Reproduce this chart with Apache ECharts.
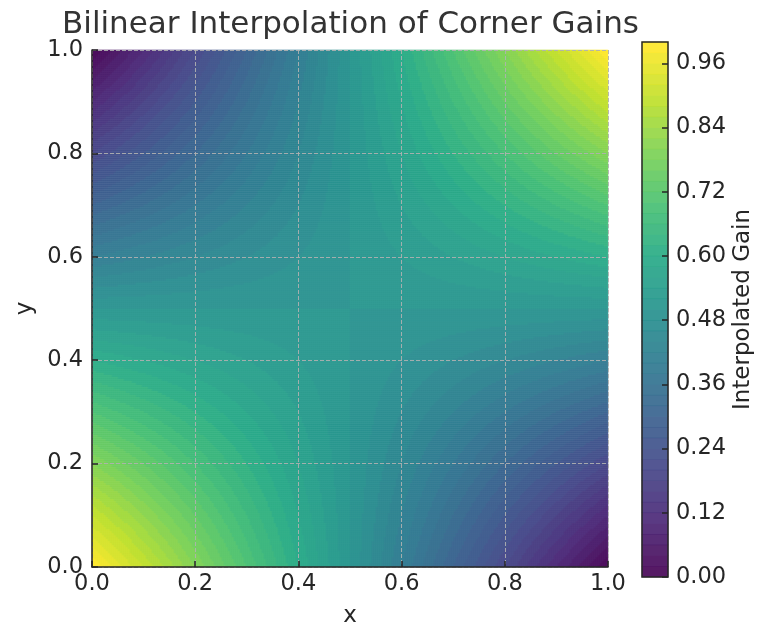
<!DOCTYPE html>
<html lang="en">
<head>
    <meta charset="UTF-8">
    <title>Bilinear Interpolation of Corner Gains</title>
    <script src="https://cdn.jsdelivr.net/npm/echarts@6/dist/echarts.min.js"></script>
</head>
<style>
    * {
        margin: 0px;
        padding: 0px;
    }
    html, body {
        width: 100%;
        height: 100%;
        overflow: hidden;
        background: #fff;
    }
    .container {
        width: 774px;
        height: 640px;
    }
</style>
<body>
    <div class="container"></div>
</body>
<script>
    // corner gains as [x, y, gain]
    let cornerGains = [[0, 0, 1.0], [1, 0, 0.0], [0, 1, 0.0], [1, 1, 1.0]];
    let axisTicks = [0.0, 0.2, 0.4, 0.6, 0.8, 1.0];
    let colorbarTicks = [0.00, 0.12, 0.24, 0.36, 0.48, 0.60, 0.72, 0.84, 0.96];
    let levelStep = 0.02;     // contour band width
    let levelCount = 50;      // bands between 0 and 1
    let gridSize = 258;       // cells per side of the sampled surface
    let viridis = ['#440154', '#482475', '#414487', '#355f8d', '#2a788e', '#21918c',
        '#22a884', '#44bf70', '#7ad151', '#bddf26', '#fde725'];

    function gainAt(c) {
        return cornerGains.find(g => g[0] == c[0] && g[1] == c[1])[2];
    }
    let g00 = gainAt([0, 0]), g10 = gainAt([1, 0]), g01 = gainAt([0, 1]), g11 = gainAt([1, 1]);

    function band(v) {
        let k = Math.min(levelCount - 1, Math.max(0, Math.floor(v / levelStep + 1e-9)));
        return (k + 0.5) * levelStep;
    }

    let cells = [];
    let cellCats = [];
    for (let i = 0; i < gridSize; i++) {
        cellCats.push(i);
        let x = (i + 0.5) / gridSize;
        for (let j = 0; j < gridSize; j++) {
            let y = (j + 0.5) / gridSize;
            let g = g00 * (1 - x) * (1 - y) + g10 * x * (1 - y) + g01 * (1 - x) * y + g11 * x * y;
            cells.push([i, j, band(g)]);
        }
    }

    let barCats = [];
    let barCells = [];
    for (let k = 0; k < levelCount; k++) {
        barCats.push(k);
        barCells.push([0, k, (k + 0.5) * levelStep]);
    }

    let font = 'DejaVu Sans';
    let ink = '#262626';
    let tickSize = 22.5;
    let gridLine = {
        show: true,
        lineStyle: {color: 'rgba(176,176,176,0.9)', width: 1, type: [4, 2]}
    };

    let container = document.querySelector('.container');
    let mycharts = echarts.init(container);

    let option = {
        animation: false,
        backgroundColor: '#fff',
        textStyle: {fontFamily: font},
        title: {
            text: 'Bilinear Interpolation of Corner Gains',
            left: 62,
            top: 9,
            padding: 0,
            textStyle: {fontFamily: font, fontSize: 31, fontWeight: 'normal', color: '#333'}
        },
        grid: [
            {left: 92, top: 50, width: 516, height: 517, containLabel: false},
            {left: 642, top: 42, width: 26, height: 535, show: true, borderColor: ink, borderWidth: 1.5, z: 10}
        ],
        visualMap: {
            type: 'continuous',
            show: false,
            seriesIndex: [0, 1],
            dimension: 2,
            min: levelStep / 2,
            max: 1 - levelStep / 2,
            inRange: {color: viridis}
        },
        xAxis: [
            {
                type: 'value', gridIndex: 0, z: 10,
                min: axisTicks[0], max: axisTicks[axisTicks.length - 1],
                interval: axisTicks[1] - axisTicks[0],
                name: 'x', nameLocation: 'middle', nameGap: 38,
                nameTextStyle: {fontFamily: font, fontSize: 23, color: ink},
                axisLine: {show: true, lineStyle: {color: ink, width: 1.5}},
                axisTick: {show: true, inside: true, length: 6, lineStyle: {color: ink, width: 1.5}},
                axisLabel: {fontFamily: font, fontSize: tickSize, color: ink, margin: 6,
                    formatter: v => v.toFixed(1)},
                splitLine: gridLine
            },
            {type: 'category', gridIndex: 0, data: cellCats, show: false},
            {type: 'category', gridIndex: 1, data: ['c'], show: false}
        ],
        yAxis: [
            {
                type: 'value', gridIndex: 0, z: 10,
                min: axisTicks[0], max: axisTicks[axisTicks.length - 1],
                interval: axisTicks[1] - axisTicks[0],
                name: 'y', nameLocation: 'middle', nameGap: 54,
                nameTextStyle: {fontFamily: font, fontSize: 23, color: ink},
                axisLine: {show: true, lineStyle: {color: ink, width: 1.5}},
                axisTick: {show: true, inside: true, length: 6, lineStyle: {color: ink, width: 1.5}},
                axisLabel: {fontFamily: font, fontSize: tickSize, color: ink, margin: 9,
                    formatter: v => v.toFixed(1)},
                splitLine: gridLine
            },
            {type: 'category', gridIndex: 0, data: cellCats, show: false},
            {type: 'category', gridIndex: 1, data: barCats, show: false},
            {
                type: 'value', gridIndex: 1, position: 'right', z: 11,
                min: 0, max: 1.0,
                interval: colorbarTicks[1] - colorbarTicks[0],
                name: 'Interpolated Gain', nameLocation: 'middle', nameGap: 64, nameRotate: 90,
                nameTextStyle: {fontFamily: font, fontSize: 23, color: ink},
                axisLine: {show: false},
                axisTick: {show: true, inside: true, length: 6, lineStyle: {color: ink, width: 1.5}},
                axisLabel: {fontFamily: font, fontSize: tickSize, color: ink, margin: 8, showMaxLabel: false,
                    formatter: v => v.toFixed(2)},
                splitLine: {show: false}
            }
        ],
        series: [
            {
                type: 'heatmap',
                xAxisIndex: 1,
                yAxisIndex: 1,
                data: cells,
                progressive: 0,
                itemStyle: {opacity: 0.9},
                emphasis: {disabled: true}
            },
            {
                type: 'heatmap',
                xAxisIndex: 2,
                yAxisIndex: 2,
                data: barCells,
                progressive: 0,
                itemStyle: {opacity: 0.9},
                emphasis: {disabled: true}
            }
        ]
    };
    mycharts.setOption(option);
</script>
</html>
